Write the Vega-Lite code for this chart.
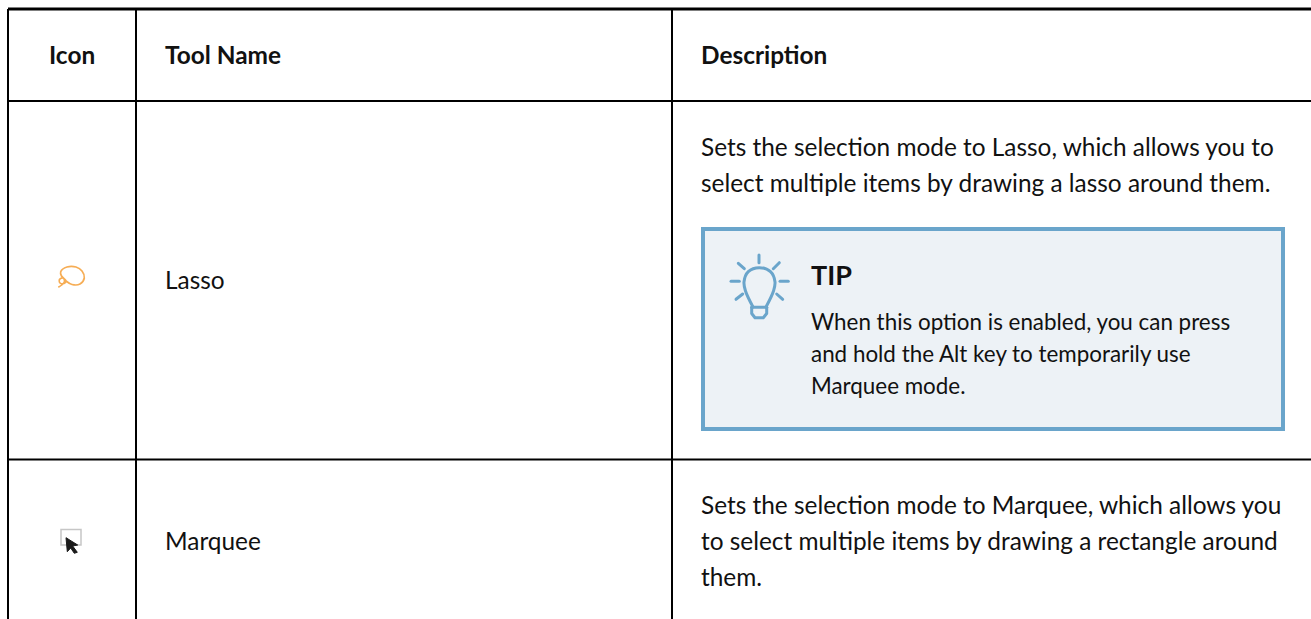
{
"$schema":"https://vega.github.io/schema/vega-lite/v6.json",
"width":1311,"height":619,
"autosize":{"type":"fit","contains":"padding"},
"padding":0,
"background":"#ffffff",
"view":{"stroke":null},
"datasets":{
"boxes":[{"name":"tip","left":703,"right":1283,"top":229,"bottom":429}],
"grid":[
{"a":8,"b":9,"c":1311,"d":9,"w":3},
{"a":8,"b":101,"c":1311,"d":101,"w":2},
{"a":8,"b":459.5,"c":1311,"d":459.5,"w":2},
{"a":8,"b":9,"c":8,"d":619,"w":2},
{"a":136,"b":9,"c":136,"d":619,"w":2},
{"a":672,"b":9,"c":672,"d":619,"w":2}
],
"head":[
{"t":"Icon","x":49,"y":64},
{"t":"Tool Name","x":165,"y":64},
{"t":"Description","x":701,"y":64}
],
"body":[
{"t":"Lasso","x":165,"y":289},
{"t":"Marquee","x":165,"y":550},
{"t":"Sets the selection mode to Lasso, which allows you to","x":701,"y":156},
{"t":"select multiple items by drawing a lasso around them.","x":701,"y":192},
{"t":"Sets the selection mode to Marquee, which allows you","x":701,"y":514},
{"t":"to select multiple items by drawing a rectangle around","x":701,"y":550},
{"t":"them.","x":701,"y":586}
],
"tiphead":[{"t":"TIP","x":811,"y":285}],
"tipbody":[
{"t":"When this option is enabled, you can press","x":811,"y":330},
{"t":"and hold the Alt key to temporarily use","x":811,"y":362},
{"t":"Marquee mode.","x":811,"y":394}
],
"rays":[
{"g":"r1","i":0,"x":759,"y":255},{"g":"r1","i":1,"x":759,"y":262.7},
{"g":"r2","i":0,"x":738.3,"y":263.3},{"g":"r2","i":1,"x":744.3,"y":268.7},
{"g":"r3","i":0,"x":779.3,"y":262.7},{"g":"r3","i":1,"x":773.3,"y":268.7},
{"g":"r4","i":0,"x":731,"y":281.3},{"g":"r4","i":1,"x":739.3,"y":281.3},
{"g":"r5","i":0,"x":780,"y":281.3},{"g":"r5","i":1,"x":788.3,"y":281.3},
{"g":"r6","i":0,"x":736,"y":299.3},{"g":"r6","i":1,"x":742.7,"y":294},
{"g":"r7","i":0,"x":782.7,"y":299.3},{"g":"r7","i":1,"x":776.7,"y":294},
{"g":"base","i":0,"x":751.7,"y":307.3},{"g":"base","i":1,"x":766.7,"y":307.3},
{"g":"cup","i":0,"x":751.7,"y":307.3},{"g":"cup","i":1,"x":751.7,"y":313.5},{"g":"cup","i":2,"x":755,"y":317.7},{"g":"cup","i":3,"x":763.3,"y":317.7},{"g":"cup","i":4,"x":766.7,"y":313.5},{"g":"cup","i":5,"x":766.7,"y":307.3}
],
"bulb":[
{"i":0,"x":753,"y":307},{"i":1,"x":745.5,"y":291},{"i":2,"x":744,"y":282},{"i":3,"x":748.3,"y":271.7},{"i":4,"x":759.3,"y":267.7},{"i":5,"x":770.5,"y":271.7},{"i":6,"x":775,"y":282},{"i":7,"x":773.5,"y":291},{"i":8,"x":766,"y":307}
],
"lasso":[
{"i":0,"x":58.3,"y":287.3},{"i":1,"x":61.7,"y":285},{"i":2,"x":64.5,"y":281.5},{"i":3,"x":63,"y":278},{"i":4,"x":59.5,"y":279.5},{"i":5,"x":60,"y":283},{"i":6,"x":64,"y":283.5},{"i":7,"x":66,"y":281},{"i":8,"x":61.5,"y":276},{"i":9,"x":60.7,"y":271.7},{"i":10,"x":67,"y":267},{"i":11,"x":76,"y":267},{"i":12,"x":82,"y":271},{"i":13,"x":84.3,"y":278},{"i":14,"x":80,"y":284},{"i":15,"x":72,"y":284.5},{"i":16,"x":66,"y":281}
],
"frame":[{"left":61,"right":81,"top":529.5,"bottom":545}],
"arrow":[
{"i":0,"x":66,"y":537.7},{"i":1,"x":77.7,"y":545},{"i":2,"x":72.7,"y":546},{"i":3,"x":77.3,"y":552.3},{"i":4,"x":74.3,"y":553.3},{"i":5,"x":70.7,"y":548},{"i":6,"x":67.3,"y":551.7},{"i":7,"x":66,"y":537.7}
]
},
"resolve":{"scale":{"x":"shared","y":"shared"}},
"layer":[
{"data":{"name":"boxes"},"mark":{"type":"rect","fill":"#edf2f6","stroke":"#6aa5cb","strokeWidth":4},
"encoding":{"x":{"field":"left","type":"quantitative","scale":{"domain":[0,1311],"range":[0,1311],"nice":false,"zero":false},"axis":null},"x2":{"field":"right"},"y":{"field":"top","type":"quantitative","scale":{"domain":[0,619],"range":[0,619],"nice":false,"zero":false},"axis":null},"y2":{"field":"bottom"}}},
{"data":{"name":"grid"},"mark":{"type":"rule","color":"#000000"},
"encoding":{"x":{"field":"a","type":"quantitative","axis":null},"x2":{"field":"c"},"y":{"field":"b","type":"quantitative","axis":null},"y2":{"field":"d"},"strokeWidth":{"field":"w","type":"quantitative","scale":null,"legend":null}}},
{"data":{"name":"head"},"mark":{"type":"text","font":"Lato","fontSize":24.4,"fontWeight":"bold","align":"left","baseline":"alphabetic","color":"#111111"},
"encoding":{"x":{"field":"x","type":"quantitative","axis":null},"y":{"field":"y","type":"quantitative","axis":null},"text":{"field":"t"}}},
{"data":{"name":"body"},"mark":{"type":"text","font":"Lato","fontSize":24.4,"align":"left","baseline":"alphabetic","color":"#111111"},
"encoding":{"x":{"field":"x","type":"quantitative","axis":null},"y":{"field":"y","type":"quantitative","axis":null},"text":{"field":"t"}}},
{"data":{"name":"tiphead"},"mark":{"type":"text","font":"Lato","fontSize":27,"fontWeight":"bold","align":"left","baseline":"alphabetic","color":"#111111"},
"encoding":{"x":{"field":"x","type":"quantitative","axis":null},"y":{"field":"y","type":"quantitative","axis":null},"text":{"field":"t"}}},
{"data":{"name":"tipbody"},"mark":{"type":"text","font":"Lato","fontSize":22.4,"align":"left","baseline":"alphabetic","color":"#111111"},
"encoding":{"x":{"field":"x","type":"quantitative","axis":null},"y":{"field":"y","type":"quantitative","axis":null},"text":{"field":"t"}}},
{"data":{"name":"rays"},"mark":{"type":"line","color":"#6aa5cb","strokeWidth":3,"strokeCap":"round","strokeJoin":"round"},
"encoding":{"x":{"field":"x","type":"quantitative","axis":null},"y":{"field":"y","type":"quantitative","axis":null},"detail":{"field":"g"},"order":{"field":"i"}}},
{"data":{"name":"bulb"},"mark":{"type":"line","color":"#6aa5cb","strokeWidth":3,"strokeCap":"round","interpolate":"catmull-rom"},
"encoding":{"x":{"field":"x","type":"quantitative","axis":null},"y":{"field":"y","type":"quantitative","axis":null},"order":{"field":"i"}}},
{"data":{"name":"lasso"},"mark":{"type":"line","color":"#f6ad55","strokeWidth":1.7,"interpolate":"catmull-rom"},
"encoding":{"x":{"field":"x","type":"quantitative","axis":null},"y":{"field":"y","type":"quantitative","axis":null},"order":{"field":"i"}}},
{"data":{"name":"frame"},"mark":{"type":"rect","fill":"#ffffff","stroke":"#c6c6c6","strokeWidth":1.5},
"encoding":{"x":{"field":"left","type":"quantitative","axis":null},"x2":{"field":"right"},"y":{"field":"top","type":"quantitative","axis":null},"y2":{"field":"bottom"}}},
{"data":{"name":"arrow"},"mark":{"type":"line","color":"#1a1a1a","fill":"#1a1a1a","strokeWidth":1,"strokeJoin":"round"},
"encoding":{"x":{"field":"x","type":"quantitative","axis":null},"y":{"field":"y","type":"quantitative","axis":null},"order":{"field":"i"}}}
]
}
